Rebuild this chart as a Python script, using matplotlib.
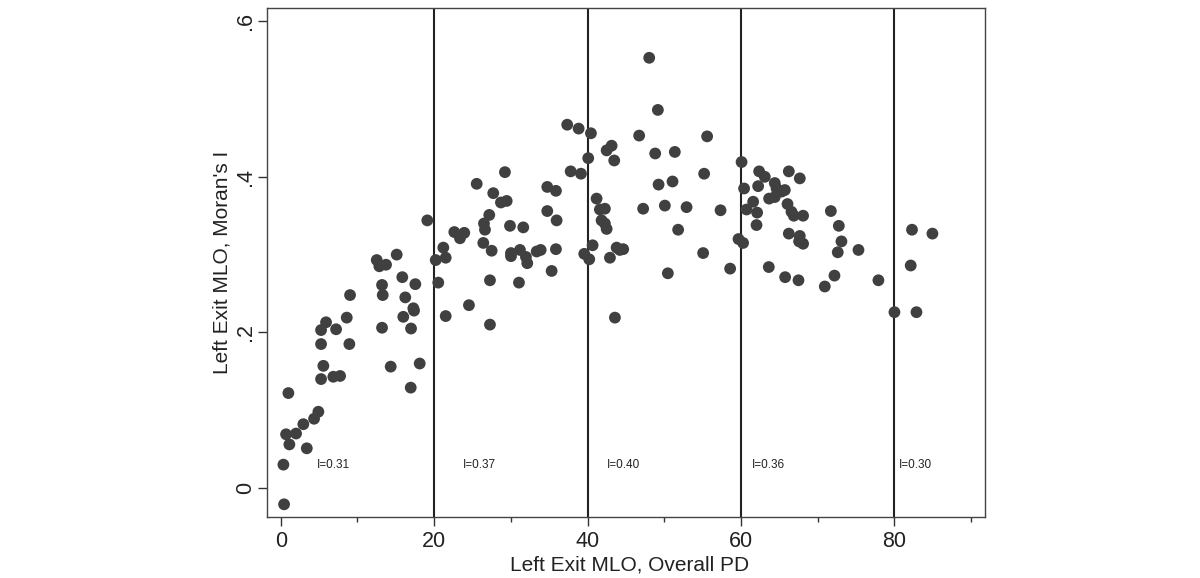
import matplotlib
matplotlib.use("Agg")
import matplotlib.pyplot as plt

plt.rcParams['font.family'] = ['Liberation Sans', 'DejaVu Sans']

# Data
pd_values = [
    12.51, 12.85, 13.72, 15.11, 15.84, 17.54, 13.20, 13.29, 16.23, 17.28,
    15.97, 17.37, 13.20, 16.98, 14.33, 18.11, 16.94, 9.03, 8.60, 8.94,
    5.25, 5.90, 7.21, 5.25, 5.55, 5.25, 6.85, 7.73, 0.99, 4.90,
    4.34, 2.94, 1.99, 0.69, 1.12, 3.39, 0.34, 0.43, 19.10,
    20.20, 21.19, 21.50, 20.53, 21.50, 24.53, 27.27, 27.27, 31.05, 35.31,
    22.62, 23.36, 23.92, 26.40, 27.49, 26.62, 26.49, 27.18, 25.54, 27.70,
    28.70, 29.45, 29.22, 29.88, 31.61, 30.01, 30.01, 31.18, 31.96, 32.13,
    33.36, 33.88, 34.74, 35.87, 34.74, 35.96, 35.87, 37.34, 38.83, 37.79,
    39.13, 40.43, 40.08, 39.56, 40.21,
    40.65, 41.17, 41.60, 42.25, 41.82, 42.25, 42.48, 42.91, 43.78, 44.21,
    44.64, 43.56, 42.48, 43.13, 43.47, 46.72, 48.03, 49.16, 48.81, 49.25,
    47.24, 50.07, 50.46, 51.07, 51.37, 55.58, 55.19, 52.90, 57.33, 51.80,
    55.06, 58.58,
    60.07, 62.36, 63.10, 66.23, 67.66, 60.40, 62.23, 64.40, 64.63, 65.28,
    65.71, 63.66, 64.40, 61.58, 60.72, 62.10, 66.06, 66.58, 66.88, 68.09,
    62.02, 59.67, 60.27, 66.23, 67.66, 67.57, 68.09, 71.71, 72.75, 73.09,
    72.61, 75.31, 63.62, 65.75, 67.49, 70.92, 72.18, 77.91,
    80.00, 82.87, 82.29, 84.95, 82.12,
]
morans_i = [
    0.293, 0.285, 0.287, 0.300, 0.271, 0.262, 0.261, 0.248, 0.245, 0.231,
    0.220, 0.228, 0.206, 0.205, 0.156, 0.160, 0.129, 0.248, 0.219, 0.185,
    0.203, 0.213, 0.204, 0.185, 0.157, 0.140, 0.143, 0.144, 0.122, 0.098,
    0.089, 0.082, 0.070, 0.069, 0.056, 0.051, 0.030, -0.021, 0.344,
    0.293, 0.309, 0.296, 0.264, 0.221, 0.235, 0.210, 0.267, 0.264, 0.279,
    0.329, 0.321, 0.328, 0.315, 0.305, 0.332, 0.340, 0.351, 0.391, 0.379,
    0.367, 0.369, 0.406, 0.337, 0.335, 0.302, 0.298, 0.306, 0.297, 0.289,
    0.304, 0.306, 0.387, 0.382, 0.356, 0.344, 0.307, 0.467, 0.462, 0.407,
    0.404, 0.456, 0.424, 0.301, 0.294,
    0.312, 0.372, 0.358, 0.359, 0.344, 0.340, 0.333, 0.296, 0.309, 0.306,
    0.307, 0.219, 0.434, 0.440, 0.421, 0.453, 0.553, 0.486, 0.430, 0.390,
    0.359, 0.363, 0.276, 0.394, 0.432, 0.452, 0.404, 0.361, 0.357, 0.332,
    0.302, 0.282,
    0.419, 0.407, 0.400, 0.407, 0.398, 0.385, 0.388, 0.392, 0.385, 0.381,
    0.383, 0.372, 0.374, 0.368, 0.358, 0.354, 0.365, 0.355, 0.350, 0.350,
    0.338, 0.320, 0.315, 0.327, 0.324, 0.317, 0.314, 0.356, 0.337, 0.317,
    0.303, 0.306, 0.284, 0.271, 0.267, 0.259, 0.273, 0.267,
    0.226, 0.226, 0.332, 0.327, 0.286,
]

cutoffs = [20, 40, 60, 80]
group_labels = ["I=0.31", "I=0.37", "I=0.40", "I=0.36", "I=0.30"]
label_x = [4.7, 23.7, 42.5, 61.4, 80.6]

x_major = [0, 20, 40, 60, 80]
x_minor = [10, 30, 50, 70, 90]
y_ticks = [0, 0.2, 0.4, 0.6]
y_ticklabels = ["0", ".2", ".4", ".6"]

fig = plt.figure(figsize=(12, 5.78), dpi=100)
ax = fig.add_axes([0.2228, 0.105, 0.598, 0.8806])

ax.scatter(pd_values, morans_i, s=72, color='#404040', edgecolors='none', zorder=3)

for c in cutoffs:
    ax.axvline(c, color='#222222', lw=1.5, zorder=2)

for lx, lab in zip(label_x, group_labels):
    ax.text(lx, 0.029, lab, fontsize=8.5, color='#222222', ha='left', va='center')

ax.set_xlim(-1.75, 91.8)
ax.set_ylim(-0.0377, 0.6166)

ax.set_xticks(x_major)
ax.set_xticks(x_minor, minor=True)
ax.set_yticks(y_ticks)
ax.set_yticklabels(y_ticklabels, rotation=90, va='center')

ax.tick_params(axis='both', which='major', direction='out', length=6.2, width=1,
               color='#333333', labelsize=15.5, labelcolor='#222222')
ax.tick_params(axis='both', which='minor', direction='out', length=3.6, width=1,
               color='#333333')
ax.tick_params(axis='x', which='major', pad=3.6)
ax.tick_params(axis='y', which='major', pad=1.8)

for sp in ax.spines.values():
    sp.set_color('#444444')
    sp.set_linewidth(1.0)

ax.set_xlabel("Left Exit MLO, Overall PD", fontsize=15, color='#222222')
ax.set_ylabel("Left Exit MLO, Moran's I", fontsize=15, color='#222222')
ax.xaxis.set_label_coords(0.5048, -0.076)
ax.yaxis.set_label_coords(-0.0506, 0.5)

fig.savefig("out.png", dpi=100)
